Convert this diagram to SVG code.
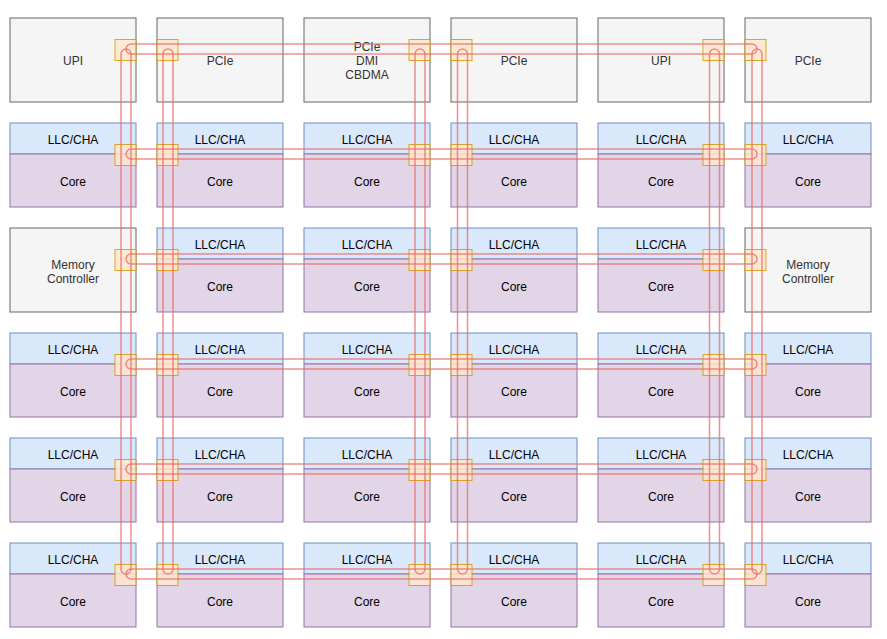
<svg xmlns="http://www.w3.org/2000/svg" width="887" height="639" viewBox="0 0 887 639">
<style>
.g{fill:#f5f5f5;stroke:#666666;stroke-width:1}
.b{fill:#dae8fc;stroke:#6c8ebf;stroke-width:1}
.p{fill:#e1d5e7;stroke:#9673a6;stroke-width:1}
.sq{fill:#ffe6cc;stroke:#d79b00;stroke-width:1;opacity:0.85}
.ring{fill:none;stroke:#ea6b66;stroke-width:1.5;opacity:0.75}
text{font-family:"Liberation Sans",Arial,sans-serif;font-size:12px;text-anchor:middle}
.gt{fill:#333333}
.t{fill:#000000}
</style>
<rect width="887" height="639" fill="#ffffff"/>
<g id="nodes">
<g id="n-0-0"><rect class="g" x="10" y="18" width="126" height="84"/><text class="gt" x="73" y="65">UPI</text></g>
<g id="n-0-1"><rect class="g" x="157" y="18" width="126" height="84"/><text class="gt" x="220" y="65">PCIe</text></g>
<g id="n-0-2"><rect class="g" x="304" y="18" width="126" height="84"/><text class="gt" x="367" y="51">PCIe</text><text class="gt" x="367" y="65">DMI</text><text class="gt" x="367" y="79">CBDMA</text></g>
<g id="n-0-3"><rect class="g" x="451" y="18" width="126" height="84"/><text class="gt" x="514" y="65">PCIe</text></g>
<g id="n-0-4"><rect class="g" x="598" y="18" width="126" height="84"/><text class="gt" x="661" y="65">UPI</text></g>
<g id="n-0-5"><rect class="g" x="745" y="18" width="126" height="84"/><text class="gt" x="808" y="65">PCIe</text></g>

<g id="n-1-0"><rect class="b" x="10" y="123" width="126" height="31"/><rect class="p" x="10" y="154" width="126" height="53"/><text class="t" x="73" y="144">LLC/CHA</text><text class="t" x="73" y="185.5">Core</text></g>
<g id="n-1-1"><rect class="b" x="157" y="123" width="126" height="31"/><rect class="p" x="157" y="154" width="126" height="53"/><text class="t" x="220" y="144">LLC/CHA</text><text class="t" x="220" y="185.5">Core</text></g>
<g id="n-1-2"><rect class="b" x="304" y="123" width="126" height="31"/><rect class="p" x="304" y="154" width="126" height="53"/><text class="t" x="367" y="144">LLC/CHA</text><text class="t" x="367" y="185.5">Core</text></g>
<g id="n-1-3"><rect class="b" x="451" y="123" width="126" height="31"/><rect class="p" x="451" y="154" width="126" height="53"/><text class="t" x="514" y="144">LLC/CHA</text><text class="t" x="514" y="185.5">Core</text></g>
<g id="n-1-4"><rect class="b" x="598" y="123" width="126" height="31"/><rect class="p" x="598" y="154" width="126" height="53"/><text class="t" x="661" y="144">LLC/CHA</text><text class="t" x="661" y="185.5">Core</text></g>
<g id="n-1-5"><rect class="b" x="745" y="123" width="126" height="31"/><rect class="p" x="745" y="154" width="126" height="53"/><text class="t" x="808" y="144">LLC/CHA</text><text class="t" x="808" y="185.5">Core</text></g>

<g id="n-2-0"><rect class="g" x="10" y="228" width="126" height="84"/><text class="gt" x="73" y="268.5">Memory</text><text class="gt" x="73" y="282.5">Controller</text></g>
<g id="n-2-1"><rect class="b" x="157" y="228" width="126" height="31"/><rect class="p" x="157" y="259" width="126" height="53"/><text class="t" x="220" y="249">LLC/CHA</text><text class="t" x="220" y="290.5">Core</text></g>
<g id="n-2-2"><rect class="b" x="304" y="228" width="126" height="31"/><rect class="p" x="304" y="259" width="126" height="53"/><text class="t" x="367" y="249">LLC/CHA</text><text class="t" x="367" y="290.5">Core</text></g>
<g id="n-2-3"><rect class="b" x="451" y="228" width="126" height="31"/><rect class="p" x="451" y="259" width="126" height="53"/><text class="t" x="514" y="249">LLC/CHA</text><text class="t" x="514" y="290.5">Core</text></g>
<g id="n-2-4"><rect class="b" x="598" y="228" width="126" height="31"/><rect class="p" x="598" y="259" width="126" height="53"/><text class="t" x="661" y="249">LLC/CHA</text><text class="t" x="661" y="290.5">Core</text></g>
<g id="n-2-5"><rect class="g" x="745" y="228" width="126" height="84"/><text class="gt" x="808" y="268.5">Memory</text><text class="gt" x="808" y="282.5">Controller</text></g>

<g id="n-3-0"><rect class="b" x="10" y="333" width="126" height="31"/><rect class="p" x="10" y="364" width="126" height="53"/><text class="t" x="73" y="354">LLC/CHA</text><text class="t" x="73" y="395.5">Core</text></g>
<g id="n-3-1"><rect class="b" x="157" y="333" width="126" height="31"/><rect class="p" x="157" y="364" width="126" height="53"/><text class="t" x="220" y="354">LLC/CHA</text><text class="t" x="220" y="395.5">Core</text></g>
<g id="n-3-2"><rect class="b" x="304" y="333" width="126" height="31"/><rect class="p" x="304" y="364" width="126" height="53"/><text class="t" x="367" y="354">LLC/CHA</text><text class="t" x="367" y="395.5">Core</text></g>
<g id="n-3-3"><rect class="b" x="451" y="333" width="126" height="31"/><rect class="p" x="451" y="364" width="126" height="53"/><text class="t" x="514" y="354">LLC/CHA</text><text class="t" x="514" y="395.5">Core</text></g>
<g id="n-3-4"><rect class="b" x="598" y="333" width="126" height="31"/><rect class="p" x="598" y="364" width="126" height="53"/><text class="t" x="661" y="354">LLC/CHA</text><text class="t" x="661" y="395.5">Core</text></g>
<g id="n-3-5"><rect class="b" x="745" y="333" width="126" height="31"/><rect class="p" x="745" y="364" width="126" height="53"/><text class="t" x="808" y="354">LLC/CHA</text><text class="t" x="808" y="395.5">Core</text></g>

<g id="n-4-0"><rect class="b" x="10" y="438" width="126" height="31"/><rect class="p" x="10" y="469" width="126" height="53"/><text class="t" x="73" y="459">LLC/CHA</text><text class="t" x="73" y="500.5">Core</text></g>
<g id="n-4-1"><rect class="b" x="157" y="438" width="126" height="31"/><rect class="p" x="157" y="469" width="126" height="53"/><text class="t" x="220" y="459">LLC/CHA</text><text class="t" x="220" y="500.5">Core</text></g>
<g id="n-4-2"><rect class="b" x="304" y="438" width="126" height="31"/><rect class="p" x="304" y="469" width="126" height="53"/><text class="t" x="367" y="459">LLC/CHA</text><text class="t" x="367" y="500.5">Core</text></g>
<g id="n-4-3"><rect class="b" x="451" y="438" width="126" height="31"/><rect class="p" x="451" y="469" width="126" height="53"/><text class="t" x="514" y="459">LLC/CHA</text><text class="t" x="514" y="500.5">Core</text></g>
<g id="n-4-4"><rect class="b" x="598" y="438" width="126" height="31"/><rect class="p" x="598" y="469" width="126" height="53"/><text class="t" x="661" y="459">LLC/CHA</text><text class="t" x="661" y="500.5">Core</text></g>
<g id="n-4-5"><rect class="b" x="745" y="438" width="126" height="31"/><rect class="p" x="745" y="469" width="126" height="53"/><text class="t" x="808" y="459">LLC/CHA</text><text class="t" x="808" y="500.5">Core</text></g>

<g id="n-5-0"><rect class="b" x="10" y="543" width="126" height="31"/><rect class="p" x="10" y="574" width="126" height="53"/><text class="t" x="73" y="564">LLC/CHA</text><text class="t" x="73" y="605.5">Core</text></g>
<g id="n-5-1"><rect class="b" x="157" y="543" width="126" height="31"/><rect class="p" x="157" y="574" width="126" height="53"/><text class="t" x="220" y="564">LLC/CHA</text><text class="t" x="220" y="605.5">Core</text></g>
<g id="n-5-2"><rect class="b" x="304" y="543" width="126" height="31"/><rect class="p" x="304" y="574" width="126" height="53"/><text class="t" x="367" y="564">LLC/CHA</text><text class="t" x="367" y="605.5">Core</text></g>
<g id="n-5-3"><rect class="b" x="451" y="543" width="126" height="31"/><rect class="p" x="451" y="574" width="126" height="53"/><text class="t" x="514" y="564">LLC/CHA</text><text class="t" x="514" y="605.5">Core</text></g>
<g id="n-5-4"><rect class="b" x="598" y="543" width="126" height="31"/><rect class="p" x="598" y="574" width="126" height="53"/><text class="t" x="661" y="564">LLC/CHA</text><text class="t" x="661" y="605.5">Core</text></g>
<g id="n-5-5"><rect class="b" x="745" y="543" width="126" height="31"/><rect class="p" x="745" y="574" width="126" height="53"/><text class="t" x="808" y="564">LLC/CHA</text><text class="t" x="808" y="605.5">Core</text></g>
</g>
<g id="stops">
<g id="r0"><rect class="sq" x="115" y="39.5" width="21" height="21"/><rect class="sq" x="157" y="39.5" width="21" height="21"/><rect class="sq" x="409" y="39.5" width="21" height="21"/><rect class="sq" x="451" y="39.5" width="21" height="21"/><rect class="sq" x="703" y="39.5" width="21" height="21"/><rect class="sq" x="745" y="39.5" width="21" height="21"/></g>
<g id="r1"><rect class="sq" x="115" y="144.5" width="21" height="21"/><rect class="sq" x="157" y="144.5" width="21" height="21"/><rect class="sq" x="409" y="144.5" width="21" height="21"/><rect class="sq" x="451" y="144.5" width="21" height="21"/><rect class="sq" x="703" y="144.5" width="21" height="21"/><rect class="sq" x="745" y="144.5" width="21" height="21"/></g>
<g id="r2"><rect class="sq" x="115" y="249.5" width="21" height="21"/><rect class="sq" x="157" y="249.5" width="21" height="21"/><rect class="sq" x="409" y="249.5" width="21" height="21"/><rect class="sq" x="451" y="249.5" width="21" height="21"/><rect class="sq" x="703" y="249.5" width="21" height="21"/><rect class="sq" x="745" y="249.5" width="21" height="21"/></g>
<g id="r3"><rect class="sq" x="115" y="354.5" width="21" height="21"/><rect class="sq" x="157" y="354.5" width="21" height="21"/><rect class="sq" x="409" y="354.5" width="21" height="21"/><rect class="sq" x="451" y="354.5" width="21" height="21"/><rect class="sq" x="703" y="354.5" width="21" height="21"/><rect class="sq" x="745" y="354.5" width="21" height="21"/></g>
<g id="r4"><rect class="sq" x="115" y="459.5" width="21" height="21"/><rect class="sq" x="157" y="459.5" width="21" height="21"/><rect class="sq" x="409" y="459.5" width="21" height="21"/><rect class="sq" x="451" y="459.5" width="21" height="21"/><rect class="sq" x="703" y="459.5" width="21" height="21"/><rect class="sq" x="745" y="459.5" width="21" height="21"/></g>
<g id="r5"><rect class="sq" x="115" y="564.5" width="21" height="21"/><rect class="sq" x="157" y="564.5" width="21" height="21"/><rect class="sq" x="409" y="564.5" width="21" height="21"/><rect class="sq" x="451" y="564.5" width="21" height="21"/><rect class="sq" x="703" y="564.5" width="21" height="21"/><rect class="sq" x="745" y="564.5" width="21" height="21"/></g>
</g>
<g id="connectors">
<rect class="ring" x="126" y="44" width="631" height="10" rx="5"/>
<rect class="ring" x="126" y="149" width="631" height="10" rx="5"/>
<rect class="ring" x="126" y="254" width="631" height="10" rx="5"/>
<rect class="ring" x="126" y="359" width="631" height="10" rx="5"/>
<rect class="ring" x="126" y="464" width="631" height="10" rx="5"/>
<rect class="ring" x="126" y="569" width="631" height="10" rx="5"/>
<rect class="ring" x="121" y="49" width="10" height="525" rx="5"/>
<rect class="ring" x="163" y="49" width="10" height="525" rx="5"/>
<rect class="ring" x="415" y="49" width="10" height="525" rx="5"/>
<rect class="ring" x="457.5" y="49" width="10" height="525" rx="5"/>
<rect class="ring" x="709.5" y="49" width="10" height="525" rx="5"/>
<rect class="ring" x="752" y="49" width="10" height="525" rx="5"/>
</g>
</svg>
